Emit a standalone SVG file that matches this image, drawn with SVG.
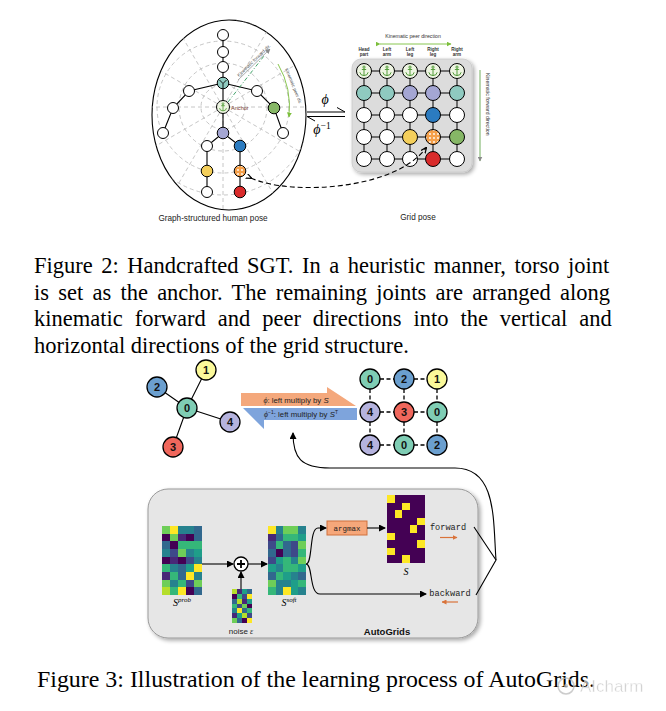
<svg xmlns="http://www.w3.org/2000/svg" width="666" height="711" viewBox="0 0 666 711">
<defs>
<style>
.sans{font-family:"Liberation Sans",Arial,sans-serif}
.serif{font-family:"Liberation Serif","Times New Roman",serif}
.mono{font-family:"Liberation Mono","DejaVu Sans Mono",monospace}
.cap{font-family:"Liberation Serif","Times New Roman",serif;font-size:22.5px;fill:#000}
.edge{stroke:#000;stroke-width:1.1;fill:none}
.nd{stroke:#000;stroke-width:1}
.pg{stroke:#b8b8b8;stroke-width:0.8;fill:none;stroke-dasharray:4 3}
.w{fill:#fff}.te{fill:#8fcac0}.lv{fill:#a4a6d3}.bl{fill:#2b7bc0}.ye{fill:#f4cf5b}.gr{fill:#86b766}.rd{fill:#d92b2b}.an{fill:#eef5e2}
.c0{fill:#440154}.c1{fill:#482878}.c2{fill:#3e4989}.c3{fill:#31688e}.c4{fill:#26828e}.c5{fill:#1f9e89}.c6{fill:#35b779}.c7{fill:#6ece58}.c8{fill:#b5de2b}.c9{fill:#fde725}
.bn{stroke:#000;stroke-width:1.3}
.bt{font-family:"Liberation Sans",Arial,sans-serif;font-size:11px;font-weight:bold;text-anchor:middle;fill:#111}
.dsh{stroke:#000;stroke-width:1.3;stroke-dasharray:4 2.5}
</style>
<pattern id="dots" width="4" height="4" patternUnits="userSpaceOnUse">
<rect width="4" height="4" fill="#f5a04a"/>
<circle cx="2" cy="2" r="0.9" fill="#fff"/>
</pattern>
<symbol id="anc" viewBox="-6 -6 12 12">
<g stroke="#4f9a36" stroke-width="0.9" fill="none">
<circle cx="0" cy="-3.6" r="1"/>
<path d="M0 -2.6V4.2M-2 -1.4H2M-3.8 1.2Q-3.4 4.2 0 4.2Q3.4 4.2 3.8 1.2"/>
</g>
</symbol>
<marker id="ah" markerWidth="7" markerHeight="7" refX="6" refY="3.5" orient="auto" markerUnits="userSpaceOnUse">
<path d="M0 0L7 3.5L0 7z" fill="#000"/>
</marker>
<marker id="ahg" markerWidth="5" markerHeight="5" refX="4.5" refY="2.5" orient="auto" markerUnits="userSpaceOnUse">
<path d="M0 0L5 2.5L0 5z" fill="#8a8a8a"/>
</marker>
<marker id="ahgr" markerWidth="5" markerHeight="5" refX="4.5" refY="2.5" orient="auto" markerUnits="userSpaceOnUse">
<path d="M0 0L5 2.5L0 5z" fill="#7cbf3c"/>
</marker>
<marker id="aho" markerWidth="5" markerHeight="5" refX="4.5" refY="2.5" orient="auto" markerUnits="userSpaceOnUse">
<path d="M0 0L5 2.5L0 5z" fill="#d9733a"/>
</marker>
<marker id="ahk" markerWidth="6" markerHeight="6" refX="5" refY="3" orient="auto" markerUnits="userSpaceOnUse">
<path d="M0 0.5L6 3L0 5.5" fill="none" stroke="#000" stroke-width="1.2"/>
</marker>
<clipPath id="ell"><ellipse cx="229" cy="115" rx="77" ry="95"/></clipPath>
<filter id="sh" x="-10%" y="-10%" width="130%" height="130%">
<feGaussianBlur in="SourceAlpha" stdDeviation="2"/>
<feOffset dx="1.5" dy="2"/>
<feComponentTransfer><feFuncA type="linear" slope="0.35"/></feComponentTransfer>
<feMerge><feMergeNode/><feMergeNode in="SourceGraphic"/></feMerge>
</filter>
</defs>
<rect width="666" height="711" fill="#fff"/>

<!-- ===== Figure 2 : graph-structured human pose ===== -->
<g id="pose-frame">
<ellipse cx="229" cy="115" rx="77" ry="95" fill="#fff" stroke="#000" stroke-width="1.1"/>
<g clip-path="url(#ell)">
<circle class="pg" cx="223" cy="107" r="22"/>
<circle class="pg" cx="223" cy="107" r="44"/>
<circle class="pg" cx="223" cy="107" r="66"/>
<circle class="pg" cx="223" cy="107" r="88"/>
<path class="pg" d="M223 107V215M223 107L123 49M223 107L323 49M223 107L165 7M223 107L281 7M223 107L123 165M223 107L323 165M223 107L165 207M223 107L281 207M223 107H120M223 107H330"/>
</g>
</g>

<g id="pose-edges">
<path class="edge" d="M223 35V133M223 83L189 91L173 108L163 133M223 83L257 91L274 108L283 133M223 133L207 146V192M223 133L240 146V192"/>
</g>

<g id="pose-annot">
<path d="M228 102L264 56" stroke="#2f9a5a" stroke-width="0.9" stroke-dasharray="4 2 1 2" fill="none"/>
<path d="M238 80L270 49" stroke="#8a8a8a" stroke-width="0.7" fill="none" marker-end="url(#ahg)"/>
<text class="sans" font-size="4.6" fill="#555" transform="translate(239 77) rotate(-44)">Kinematic forward dir.</text>
<path d="M278 64Q292 88 289 117" stroke="#7cbf3c" stroke-width="0.9" fill="none" marker-end="url(#ahgr)"/>
<text class="sans" font-size="4.6" fill="#555" transform="translate(285 69) rotate(68)">Kinematic peer dir.</text>
<text class="sans" font-size="5.6" fill="#7a3b2e" x="231" y="110">Anchor</text>
</g>

<g id="pose-nodes">
<circle class="nd w" cx="223" cy="35" r="5.5"/>
<circle class="nd w" cx="223" cy="52" r="5.5"/>
<circle class="nd w" cx="223" cy="67" r="5.5"/>
<circle class="nd te" cx="223" cy="83" r="5.8"/>
<path d="M219.5 80L223 83.5L226.5 80M223 83.5V88.8" stroke="#000" stroke-width="0.9" fill="none"/>
<circle class="nd an" cx="223" cy="107" r="6.5"/>
<use href="#anc" x="217.5" y="101.5" width="11" height="11"/>
<circle class="nd lv" cx="223" cy="133" r="5.8"/>
<circle class="nd w" cx="189" cy="91" r="5.5"/>
<circle class="nd w" cx="173" cy="108" r="5.5"/>
<circle class="nd w" cx="163" cy="133" r="5.5"/>
<circle class="nd w" cx="257" cy="91" r="5.5"/>
<circle class="nd gr" cx="274" cy="108" r="5.8"/>
<circle class="nd w" cx="283" cy="133" r="5.5"/>
<circle class="nd w" cx="207" cy="146" r="5.5"/>
<circle class="nd ye" cx="207" cy="171" r="5.8"/>
<circle class="nd w" cx="207" cy="192" r="5.5"/>
<circle class="nd bl" cx="240" cy="146" r="5.8"/>
<circle class="nd" cx="240" cy="171" r="5.8" fill="url(#dots)"/>
<circle class="nd rd" cx="240" cy="192" r="5.8"/>
</g>
<text class="sans" font-size="8.2" x="213" y="221" text-anchor="middle" fill="#222">Graph-structured human pose</text>

<!-- phi harpoons -->
<g id="phi-harpoons">
<path d="M307 112H345L337 107.5" stroke="#000" stroke-width="1" fill="none"/>
<path d="M345 116.5H307L315 121" stroke="#000" stroke-width="1" fill="none"/>
<text class="serif" font-size="14" font-style="italic" x="325" y="104" text-anchor="middle">ϕ</text>
<text class="serif" font-size="14" font-style="italic" x="322" y="134" text-anchor="middle">ϕ<tspan font-style="normal" font-size="9.5" dy="-5">−1</tspan></text>
</g>

<!-- ===== Grid pose ===== -->
<g id="grid-pose">
<rect x="352" y="59" width="120" height="113" rx="9" fill="#dcdcdc" stroke="#c9c9c9" stroke-width="0.8" filter="url(#sh)"/>
<path stroke="#000" stroke-width="1" d="M364 71H457M364 93H457M364 115H457M364 137H457M364 159H457M364 71V159M387 71V159M410 71V159M433 71V159M457 71V159"/>
<g>
<circle class="nd an" cx="364" cy="71" r="7.5"/><use href="#anc" x="357.5" y="64.5" width="13" height="13"/>
<circle class="nd an" cx="387" cy="71" r="7.5"/><use href="#anc" x="380.5" y="64.5" width="13" height="13"/>
<circle class="nd an" cx="410" cy="71" r="7.5"/><use href="#anc" x="403.5" y="64.5" width="13" height="13"/>
<circle class="nd an" cx="433" cy="71" r="7.5"/><use href="#anc" x="426.5" y="64.5" width="13" height="13"/>
<circle class="nd an" cx="457" cy="71" r="7.5"/><use href="#anc" x="450.5" y="64.5" width="13" height="13"/>
<circle class="nd te" cx="364" cy="93" r="7.5"/>
<circle class="nd te" cx="387" cy="93" r="7.5"/>
<circle class="nd lv" cx="410" cy="93" r="7.5"/>
<circle class="nd lv" cx="433" cy="93" r="7.5"/>
<circle class="nd te" cx="457" cy="93" r="7.5"/>
<circle class="nd w" cx="364" cy="115" r="7.5"/>
<circle class="nd w" cx="387" cy="115" r="7.5"/>
<circle class="nd w" cx="410" cy="115" r="7.5"/>
<circle class="nd bl" cx="433" cy="115" r="7.5"/>
<circle class="nd w" cx="457" cy="115" r="7.5"/>
<circle class="nd w" cx="364" cy="137" r="7.5"/>
<circle class="nd w" cx="387" cy="137" r="7.5"/>
<circle class="nd ye" cx="410" cy="137" r="7.5"/>
<circle class="nd" cx="433" cy="137" r="7.5" fill="url(#dots)"/>
<circle class="nd gr" cx="457" cy="137" r="7.5"/>
<circle class="nd w" cx="364" cy="159" r="7.5"/>
<circle class="nd w" cx="387" cy="159" r="7.5"/>
<circle class="nd w" cx="410" cy="159" r="7.5"/>
<circle class="nd rd" cx="433" cy="159" r="7.5"/>
<circle class="nd w" cx="457" cy="159" r="7.5"/>
</g>
<g class="sans" font-size="4.6" font-weight="bold" text-anchor="middle" fill="#333">
<text x="364" y="51">Head</text><text x="364" y="56">part</text>
<text x="387" y="51">Left</text><text x="387" y="56">arm</text>
<text x="410" y="51">Left</text><text x="410" y="56">leg</text>
<text x="433" y="51">Right</text><text x="433" y="56">leg</text>
<text x="457" y="51">Right</text><text x="457" y="56">arm</text>
</g>
<text class="sans" font-size="5.2" x="413" y="38" text-anchor="middle" fill="#333">Kinematic peer direction</text>
<path d="M380 44H451" stroke="#7cbf3c" stroke-width="0.9" fill="none" marker-end="url(#ahgr)" marker-start="url(#ahgr)"/>
<path d="M480 70V161" stroke="#4f9a36" stroke-width="0.8" fill="none" marker-end="url(#ahg)"/>
<text class="sans" font-size="5.2" fill="#333" transform="translate(486 73) rotate(90)">Kinematic forward direction</text>
<text class="sans" font-size="8.2" x="418" y="220" text-anchor="middle" fill="#222">Grid pose</text>
</g>

<g id="pose-link">
<path d="M251 178C290 196 395 190 426 148" stroke="#000" stroke-width="1.1" stroke-dasharray="5 3" fill="none" marker-end="url(#ahk)" marker-start="url(#ahk)"/>
</g>

<!-- Figure 2 caption -->
<g id="caption2" class="cap">
<text x="34" y="273" word-spacing="2.9">Figure 2: Handcrafted SGT. In a heuristic manner, torso joint</text>
<text x="34" y="299.5" word-spacing="3.6">is set as the anchor. The remaining joints are arranged along</text>
<text x="34" y="326" word-spacing="6.3">kinematic forward and peer directions into the vertical and</text>
<text x="34" y="352.5">horizontal directions of the grid structure.</text>
</g>

<!-- ===== Figure 3 : star graph ===== -->
<g id="star-edges">
<path class="edge" stroke-width="1.3" d="M187 408L206 370M187 408L157 387M187 408L173 447M187 408L230 422"/>
</g>
<g id="star-n0"><circle class="bn" cx="187" cy="408" r="10" fill="#7fcdb4"/><text class="bt" x="187" y="412">0</text></g>
<g id="star-n1"><circle class="bn" cx="206" cy="370" r="10" fill="#fbf99a"/><text class="bt" x="206" y="374">1</text></g>
<g id="star-n2"><circle class="bn" cx="157" cy="387" r="10" fill="#6b9fcf"/><text class="bt" x="157" y="391">2</text></g>
<g id="star-n3"><circle class="bn" cx="173" cy="447" r="10" fill="#f0675c"/><text class="bt" x="173" y="451">3</text></g>
<g id="star-n4"><circle class="bn" cx="230" cy="422" r="10" fill="#b5b3de"/><text class="bt" x="230" y="426">4</text></g>

<g id="phi-arrows">
<path d="M241 393H327V387L356 406H241Z" fill="#f4a87c"/>
<path d="M357 408H264V429L243 408" fill="#7ea4dc"/>
<path d="M264 408V420H357V408Z" fill="#7ea4dc"/>
<text class="sans" font-size="7.8" x="296" y="403" text-anchor="middle" fill="#222"><tspan class="serif" font-style="italic">ϕ</tspan>: left multiply by <tspan font-style="italic">S</tspan></text>
<text class="sans" font-size="7.8" x="301" y="417" text-anchor="middle" fill="#222"><tspan class="serif" font-style="italic">ϕ</tspan><tspan font-size="5" dy="-3">−1</tspan><tspan dy="3">: left multiply by </tspan><tspan font-style="italic">S</tspan><tspan font-size="5" dy="-3">T</tspan></text>
</g>

<g id="grid3-edges">
<path class="dsh" d="M380 379H394M414 379H427M380 412H394M414 412H427M380 445H394M414 445H427M370 389V402M370 422V435M404 389V402M404 422V435M437 389V402M437 422V435"/>
</g>
<g id="g00"><circle class="bn" cx="370" cy="379" r="10" fill="#7fcdb4"/><text class="bt" x="370" y="383">0</text></g>
<g id="g01"><circle class="bn" cx="404" cy="379" r="10" fill="#6b9fcf"/><text class="bt" x="404" y="383">2</text></g>
<g id="g02"><circle class="bn" cx="437" cy="379" r="10" fill="#fbf99a"/><text class="bt" x="437" y="383">1</text></g>
<g id="g10"><circle class="bn" cx="370" cy="412" r="10" fill="#b5b3de"/><text class="bt" x="370" y="416">4</text></g>
<g id="g11"><circle class="bn" cx="404" cy="412" r="10" fill="#f0675c"/><text class="bt" x="404" y="416">3</text></g>
<g id="g12"><circle class="bn" cx="437" cy="412" r="10" fill="#7fcdb4"/><text class="bt" x="437" y="416">0</text></g>
<g id="g20"><circle class="bn" cx="370" cy="445" r="10" fill="#b5b3de"/><text class="bt" x="370" y="449">4</text></g>
<g id="g21"><circle class="bn" cx="404" cy="445" r="10" fill="#7fcdb4"/><text class="bt" x="404" y="449">0</text></g>
<g id="g22"><circle class="bn" cx="437" cy="445" r="10" fill="#6b9fcf"/><text class="bt" x="437" y="449">2</text></g>

<!-- ===== AutoGrids box ===== -->
<g id="autogrids-box">
<rect x="148" y="489" width="330" height="149" rx="20" fill="#e6e6e6" stroke="#9a9a9a" stroke-width="1" filter="url(#sh)"/>
<text class="sans" font-size="9.5" font-weight="bold" x="387" y="635" text-anchor="middle" fill="#111">AutoGrids</text>
</g>

<g id="s-prob">
<g transform="translate(162 526) scale(8 7.67)" shape-rendering="crispEdges">
<rect class="c7" x="0" y="0" width="1.05" height="1.05"/><rect class="c9" x="1" y="0" width="1.05" height="1.05"/><rect class="c4" x="2" y="0" width="1.05" height="1.05"/><rect class="c4" x="3" y="0" width="1.05" height="1.05"/><rect class="c3" x="4" y="0" width="1" height="1.05"/>
<rect class="c0" x="0" y="1" width="1.05" height="1.05"/><rect class="c7" x="1" y="1" width="1.05" height="1.05"/><rect class="c1" x="2" y="1" width="1.05" height="1.05"/><rect class="c0" x="3" y="1" width="1.05" height="1.05"/><rect class="c3" x="4" y="1" width="1" height="1.05"/>
<rect class="c3" x="0" y="2" width="1.05" height="1.05"/><rect class="c0" x="1" y="2" width="1.05" height="1.05"/><rect class="c6" x="2" y="2" width="1.05" height="1.05"/><rect class="c6" x="3" y="2" width="1.05" height="1.05"/><rect class="c6" x="4" y="2" width="1" height="1.05"/>
<rect class="c4" x="0" y="3" width="1.05" height="1.05"/><rect class="c2" x="1" y="3" width="1.05" height="1.05"/><rect class="c7" x="2" y="3" width="1.05" height="1.05"/><rect class="c4" x="3" y="3" width="1.05" height="1.05"/><rect class="c5" x="4" y="3" width="1" height="1.05"/>
<rect class="c0" x="0" y="4" width="1.05" height="1.05"/><rect class="c1" x="1" y="4" width="1.05" height="1.05"/><rect class="c0" x="2" y="4" width="1.05" height="1.05"/><rect class="c2" x="3" y="4" width="1.05" height="1.05"/><rect class="c4" x="4" y="4" width="1" height="1.05"/>
<rect class="c6" x="0" y="5" width="1.05" height="1.05"/><rect class="c4" x="1" y="5" width="1.05" height="1.05"/><rect class="c3" x="2" y="5" width="1.05" height="1.05"/><rect class="c5" x="3" y="5" width="1.05" height="1.05"/><rect class="c9" x="4" y="5" width="1" height="1.05"/>
<rect class="c1" x="0" y="6" width="1.05" height="1.05"/><rect class="c6" x="1" y="6" width="1.05" height="1.05"/><rect class="c3" x="2" y="6" width="1.05" height="1.05"/><rect class="c9" x="3" y="6" width="1.05" height="1.05"/><rect class="c4" x="4" y="6" width="1" height="1.05"/>
<rect class="c7" x="0" y="7" width="1.05" height="1.05"/><rect class="c4" x="1" y="7" width="1.05" height="1.05"/><rect class="c6" x="2" y="7" width="1.05" height="1.05"/><rect class="c2" x="3" y="7" width="1.05" height="1.05"/><rect class="c7" x="4" y="7" width="1" height="1.05"/>
<rect class="c8" x="0" y="8" width="1.05" height="1"/><rect class="c6" x="1" y="8" width="1.05" height="1"/><rect class="c9" x="2" y="8" width="1.05" height="1"/><rect class="c0" x="3" y="8" width="1.05" height="1"/><rect class="c3" x="4" y="8" width="1" height="1"/>
</g>
<text class="serif" font-size="10" font-style="italic" x="182" y="606" text-anchor="middle">S<tspan font-size="7" dy="-4">prob</tspan></text>
</g>

<g id="plus">
<circle cx="241" cy="564" r="7" fill="#fff" stroke="#000" stroke-width="1.3"/>
<path d="M237 564H245M241 560V568" stroke="#000" stroke-width="1.8"/>
</g>

<g id="noise">
<g transform="translate(232 589) scale(5 4.86)" shape-rendering="crispEdges">
<rect class="c8" x="0" y="0" width="1.05" height="1.05"/><rect class="c1" x="1" y="0" width="1.05" height="1.05"/><rect class="c5" x="2" y="0" width="1.05" height="1.05"/><rect class="c3" x="3" y="0" width="1" height="1.05"/>
<rect class="c0" x="0" y="1" width="1.05" height="1.05"/><rect class="c6" x="1" y="1" width="1.05" height="1.05"/><rect class="c2" x="2" y="1" width="1.05" height="1.05"/><rect class="c9" x="3" y="1" width="1" height="1.05"/>
<rect class="c3" x="0" y="2" width="1.05" height="1.05"/><rect class="c8" x="1" y="2" width="1.05" height="1.05"/><rect class="c1" x="2" y="2" width="1.05" height="1.05"/><rect class="c5" x="3" y="2" width="1" height="1.05"/>
<rect class="c6" x="0" y="3" width="1.05" height="1.05"/><rect class="c2" x="1" y="3" width="1.05" height="1.05"/><rect class="c7" x="2" y="3" width="1.05" height="1.05"/><rect class="c0" x="3" y="3" width="1" height="1.05"/>
<rect class="c4" x="0" y="4" width="1.05" height="1.05"/><rect class="c9" x="1" y="4" width="1.05" height="1.05"/><rect class="c3" x="2" y="4" width="1.05" height="1.05"/><rect class="c6" x="3" y="4" width="1" height="1.05"/>
<rect class="c1" x="0" y="5" width="1.05" height="1.05"/><rect class="c5" x="1" y="5" width="1.05" height="1.05"/><rect class="c8" x="2" y="5" width="1.05" height="1.05"/><rect class="c2" x="3" y="5" width="1" height="1.05"/>
<rect class="c7" x="0" y="6" width="1.05" height="1"/><rect class="c3" x="1" y="6" width="1.05" height="1"/><rect class="c0" x="2" y="6" width="1.05" height="1"/><rect class="c9" x="3" y="6" width="1" height="1"/>
</g>
<text class="sans" font-size="8" x="241" y="634" text-anchor="middle" fill="#222">noise <tspan class="serif" font-style="italic">ε</tspan></text>
</g>

<g id="s-soft">
<g transform="translate(268 526) scale(7.6 7.67)" shape-rendering="crispEdges">
<rect class="c9" x="0" y="0" width="1.05" height="1.05"/><rect class="c4" x="1" y="0" width="1.05" height="1.05"/><rect class="c7" x="2" y="0" width="1.05" height="1.05"/><rect class="c7" x="3" y="0" width="1.05" height="1.05"/><rect class="c4" x="4" y="0" width="1" height="1.05"/>
<rect class="c1" x="0" y="1" width="1.05" height="1.05"/><rect class="c3" x="1" y="1" width="1.05" height="1.05"/><rect class="c6" x="2" y="1" width="1.05" height="1.05"/><rect class="c6" x="3" y="1" width="1.05" height="1.05"/><rect class="c5" x="4" y="1" width="1" height="1.05"/>
<rect class="c2" x="0" y="2" width="1.05" height="1.05"/><rect class="c6" x="1" y="2" width="1.05" height="1.05"/><rect class="c3" x="2" y="2" width="1.05" height="1.05"/><rect class="c2" x="3" y="2" width="1.05" height="1.05"/><rect class="c7" x="4" y="2" width="1" height="1.05"/>
<rect class="c3" x="0" y="3" width="1.05" height="1.05"/><rect class="c0" x="1" y="3" width="1.05" height="1.05"/><rect class="c3" x="2" y="3" width="1.05" height="1.05"/><rect class="c2" x="3" y="3" width="1.05" height="1.05"/><rect class="c6" x="4" y="3" width="1" height="1.05"/>
<rect class="c2" x="0" y="4" width="1.05" height="1.05"/><rect class="c5" x="1" y="4" width="1.05" height="1.05"/><rect class="c6" x="2" y="4" width="1.05" height="1.05"/><rect class="c4" x="3" y="4" width="1.05" height="1.05"/><rect class="c7" x="4" y="4" width="1" height="1.05"/>
<rect class="c5" x="0" y="5" width="1.05" height="1.05"/><rect class="c4" x="1" y="5" width="1.05" height="1.05"/><rect class="c6" x="2" y="5" width="1.05" height="1.05"/><rect class="c6" x="3" y="5" width="1.05" height="1.05"/><rect class="c5" x="4" y="5" width="1" height="1.05"/>
<rect class="c3" x="0" y="6" width="1.05" height="1.05"/><rect class="c6" x="1" y="6" width="1.05" height="1.05"/><rect class="c5" x="2" y="6" width="1.05" height="1.05"/><rect class="c4" x="3" y="6" width="1.05" height="1.05"/><rect class="c3" x="4" y="6" width="1" height="1.05"/>
<rect class="c7" x="0" y="7" width="1.05" height="1.05"/><rect class="c4" x="1" y="7" width="1.05" height="1.05"/><rect class="c4" x="2" y="7" width="1.05" height="1.05"/><rect class="c5" x="3" y="7" width="1.05" height="1.05"/><rect class="c6" x="4" y="7" width="1" height="1.05"/>
<rect class="c6" x="0" y="8" width="1.05" height="1"/><rect class="c4" x="1" y="8" width="1.05" height="1"/><rect class="c9" x="2" y="8" width="1.05" height="1"/><rect class="c5" x="3" y="8" width="1.05" height="1"/><rect class="c4" x="4" y="8" width="1" height="1"/>
</g>
<text class="serif" font-size="10" font-style="italic" x="289" y="606" text-anchor="middle">S<tspan font-size="7" dy="-4">soft</tspan></text>
</g>

<g id="argmax">
<rect x="327" y="521" width="40" height="14" fill="#f6a77a" stroke="#d0703c" stroke-width="1"/>
<text class="mono" font-size="7.5" x="347" y="530.5" text-anchor="middle" fill="#222">argmax</text>
</g>

<g id="s-matrix">
<rect x="387" y="495" width="38" height="68" fill="#440154"/>
<g transform="translate(387 495) scale(7.6 7.56)" class="c9" shape-rendering="crispEdges">
<rect x="0" y="0" width="1" height="1"/><rect x="2" y="1" width="1" height="1"/><rect x="1" y="2" width="1" height="1"/><rect x="4" y="3" width="1" height="1"/><rect x="3" y="4" width="1" height="1"/><rect x="0" y="5" width="1" height="1"/><rect x="4" y="6" width="1" height="1"/><rect x="0" y="7" width="1" height="1"/><rect x="2" y="8" width="1" height="1"/>
</g>
<text class="serif" font-size="10" font-style="italic" x="406" y="575" text-anchor="middle">S</text>
</g>

<g id="fb-labels">
<text class="mono" font-size="8.6" x="448" y="530" text-anchor="middle" fill="#222">forward</text>
<path d="M440 537.5H457" stroke="#d9733a" stroke-width="1.2" marker-end="url(#aho)"/>
<text class="mono" font-size="8.6" x="450" y="596" text-anchor="middle" fill="#222">backward</text>
<path d="M458 602H442" stroke="#d9733a" stroke-width="1.2" marker-end="url(#aho)"/>
</g>

<g id="connectors">
<path d="M202 564H233" class="edge" marker-end="url(#ah)"/>
<path d="M241 589V572" class="edge" marker-end="url(#ah)"/>
<path d="M248 564H267" class="edge" marker-end="url(#ah)"/>
<path d="M306 564C313 564 309 528 318 528H326" class="edge" marker-end="url(#ah)"/>
<path d="M306 564C313 564 309 594 320 594H426" class="edge" marker-end="url(#ah)"/>
<path d="M367 528H385" class="edge" marker-end="url(#ah)"/>
<path d="M474 527L496 560L476 595" class="edge" stroke-width="1.3"/>
<path d="M496 560C493 520 497 468 455 468H330C301 468 293 458 293 433" class="edge" stroke-width="1.4" marker-end="url(#ah)"/>
</g>

<!-- Figure 3 caption -->
<g id="caption3">
<text class="cap" x="37" y="687" font-size="23.9" style="font-size:23.9px">Figure 3: Illustration of the learning process of AutoGrids.</text>
</g>

<g id="watermark" opacity="0.75">
<circle cx="566" cy="686" r="8" fill="none" stroke="#bbb" stroke-width="1.6"/>
<circle cx="566" cy="686" r="2" fill="#bbb"/>
<text class="sans" font-size="17" x="580" y="692" fill="#c4c4c4" stroke="#fff" stroke-width="0.4">AIcharm</text>
</g>
</svg>
